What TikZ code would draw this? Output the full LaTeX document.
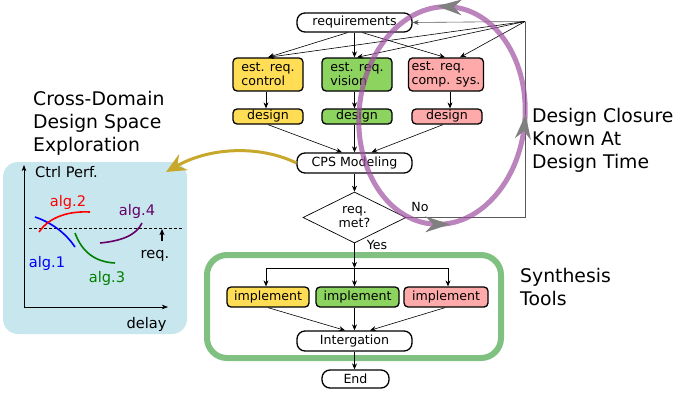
\documentclass[tikz,border=0pt]{standalone}
\usepackage{fontspec}
\setmainfont{DejaVu Sans}
\usetikzlibrary{arrows.meta,shapes.geometric,decorations.markings}
\definecolor{cyel}{HTML}{FFDD55}
\definecolor{cgrn}{HTML}{8CD35F}
\definecolor{cpnk}{HTML}{FFAAAA}
\definecolor{cblu}{HTML}{C8E6EE}
\definecolor{cgold}{HTML}{C8A82A}
\definecolor{csyn}{HTML}{80C080}
\definecolor{cpur}{HTML}{A050A0}
\newcommand\fnode{\fontsize{12.6}{14}\selectfont}
\newcommand\fbig{\fontsize{18.8}{22.8}\selectfont}
\newcommand\fplot{\fontsize{14.6}{17}\selectfont}
\tikzset{
  box/.style={draw, line width=1.3pt, rounded corners=4pt, font=\fnode, inner sep=3pt},
  pill/.style={box, rounded corners=8pt, fill=white},
  arr/.style={line width=0.6pt, -{Stealth[length=6pt,width=5pt,inset=2pt]}},
  loopline/.style={line width=0.7pt, draw=black!65},
  bigtext/.style={font=\fbig, align=left, inner sep=0pt, anchor=north west},
  plotlbl/.style={font=\fplot, inner sep=0pt},
  curve/.style={line width=1.6pt},
}
\begin{document}
\begin{tikzpicture}[x=1pt,y=-1pt]
\useasboundingbox (0,0) rectangle (675,394);

% blue exploration box and plot
\fill[cblu, rounded corners=15pt] (3,162) rectangle (187,334);
\coordinate (org) at (24,307);
\coordinate (ytop) at (24,165);
\coordinate (xend) at (168,307);
\draw[line width=0.8pt, -{Stealth[length=6pt,width=4.5pt,inset=1.5pt]}] (org) -- (ytop);
\draw[line width=0.8pt, -{Stealth[length=6pt,width=4.5pt,inset=1.5pt]}] (org) -- (xend);
\node[plotlbl, anchor=west] (ctrlperf) at (35,172) {Ctrl Perf.};
\node[plotlbl] (delay) at (146.5,324) {delay};
\draw[line width=0.9pt, dashed, dash pattern=on 3pt off 2pt] (29,228) -- (182,228);
\coordinate (reqbase) at (162,241);
\coordinate (reqtip) at (162,229);
\draw[line width=1.1pt, -{Stealth[length=6pt,width=5pt,inset=1.5pt]}] (reqbase) -- (reqtip);
\node[plotlbl] (reqlbl) at (155,256) {req.};
\draw[curve, blue] (35,217) .. controls (50,222) and (65,232) .. (75,247);
\draw[curve, red] (39,232) .. controls (50,216) and (70,211) .. (90,212);
\draw[curve, green!50!black] (75,233) .. controls (82,252) and (95,262) .. (115,263);
\draw[curve, violet!80!black] (100,243) .. controls (120,241) and (136,236) .. (142,223);
\node[plotlbl, blue] (a1) at (47,263) {alg.1};
\node[plotlbl, red] (a2) at (68,202) {alg.2};
\node[plotlbl, green!50!black] (a3) at (107,278) {alg.3};
\node[plotlbl, violet!80!black] (a4) at (137,211) {alg.4};

% synthesis box
\draw[csyn, line width=6pt, rounded corners=20pt] (207,255) rectangle (501,358);

% flowchart nodes
\node[pill, minimum width=115pt, minimum height=19pt] (req) at (354.5,22.5) {requirements};
\node[box, fill=cyel, align=left, minimum width=70pt, minimum height=33pt] (ctrl) at (268,74.5) {est. req.\\control};
\node[box, fill=cgrn, align=left, minimum width=70pt, minimum height=33pt] (vis) at (357,74.5) {est. req.\\vision};
\node[box, fill=cpnk, align=left, minimum width=70pt, minimum height=33pt, inner xsep=3pt] (comp) at (446,74.5) {est. req.\\comp. sys.};
\node[box, fill=cyel, minimum width=70pt, minimum height=15pt, inner ysep=1pt] (d1) at (268,116.5) {design};
\node[box, fill=cgrn, minimum width=70pt, minimum height=15pt, inner ysep=1pt] (d2) at (357,116.5) {design};
\node[box, fill=cpnk, minimum width=70pt, minimum height=15pt, inner ysep=1pt] (d3) at (447,116.5) {design};
\node[pill, minimum width=115pt, minimum height=20pt] (cps) at (354.5,163) {CPS Modeling};
\node[diamond, draw, line width=0.7pt, aspect=2, inner sep=0pt, minimum width=103pt, minimum height=51pt, align=center, font=\fnode] (dia) at (354.5,217.5) {req.\\met?};
\node[box, fill=cyel, minimum width=82pt, minimum height=20pt] (i1) at (268,297) {implement};
\node[box, fill=cgrn, minimum width=83pt, minimum height=20pt] (i2) at (357.5,297) {implement};
\node[box, fill=cpnk, minimum width=84pt, minimum height=20pt] (i3) at (446,297) {implement};
\node[pill, minimum width=115pt, minimum height=20pt] (integ) at (354.5,341) {Intergation};
\node[pill, minimum width=67pt, minimum height=18pt] (fin) at (355.5,379) {End};

% connectors
\draw[arr] ([xshift=-7pt]req.south) -- (ctrl.north);
\draw[arr] (req.south) -- (req.south |- vis.north);
\draw[arr] ([xshift=8pt]req.south) -- ([xshift=-1pt]comp.north);
\coordinate (corner) at (525,21.5);
\coordinate (cbot) at (525,217.5);
\draw[loopline] (dia.east) -- (cbot) -- (corner);
\draw[arr, draw=black!65] (corner) -- (req.east);
\draw[arr] (corner) -- (ctrl.north);
\draw[arr] (corner) -- (vis.north);
\draw[arr] (corner) -- ([xshift=14pt]comp.north);
\draw[arr] ([xshift=-2pt]ctrl.south) -- ([xshift=-2pt]d1.north);
\draw[arr] (ctrl.south -| req.south) -- (d2.north -| req.south);
\draw[arr] ([xshift=4pt]comp.south) -- ([xshift=3pt]d3.north);
\draw[arr] (d1.south) -- ([xshift=-12.5pt]cps.north);
\draw[arr] (d2.south -| cps.south) -- (cps.north);
\draw[arr] ([xshift=-4pt]d3.south) -- ([xshift=17pt]cps.north);
\draw[arr] (cps.south) -- (dia.north);
\coordinate (jm) at (354.5,268);
\coordinate (jl) at (266,268);
\coordinate (jr) at (448,268);
\draw[arr] (dia.south) -- (jm);
\draw[line width=0.6pt] (jl) -- (jr);
\draw[arr] (jl) -- (jl |- i1.north);
\draw[arr] (jm) -- (jm |- i2.north);
\draw[arr] (jr) -- (jr |- i3.north);
\draw[arr] (i1.south) -- ([xshift=-9.5pt]integ.north);
\draw[arr] (i2.south -| integ.north) -- (integ.north);
\draw[arr] ([xshift=-1pt]i3.south) -- ([xshift=15.5pt]integ.north);
\draw[arr] (integ.south) -- (integ.south |- fin.north);
\node[font=\fnode, inner sep=0pt] (nolbl) at (420,207) {No};
\node[font=\fnode, inner sep=0pt] (yeslbl) at (377,245) {Yes};

% design closure ellipse
\begin{scope}[shift={(442,115.5)}, rotate=-5]
\draw[cpur, line width=5pt, opacity=0.7] (0,0) ellipse [x radius=83, y radius=109];
\path[decoration={markings,
  mark=at position 0.13 with {\fill[gray] (12pt,0pt) -- (-13pt,8pt) -- (-5pt,0pt) -- (-13pt,-8pt) -- cycle;},
  mark=at position 0.39 with {\fill[gray] (12pt,0pt) -- (-13pt,8pt) -- (-5pt,0pt) -- (-13pt,-8pt) -- cycle;},
  mark=at position 0.895 with {\fill[gray] (12pt,0pt) -- (-13pt,8pt) -- (-5pt,0pt) -- (-13pt,-8pt) -- cycle;}},
  decorate] (45:83 and 109) arc[start angle=45, end angle=-315, x radius=83, y radius=109];
\end{scope}

% exploration arrow
\coordinate (goldtip) at (166,172);
\draw[cgold, line width=3pt, -{Stealth[length=20pt,width=18pt,inset=7pt]}] (cps.west) .. controls (262,146) and (212,146) .. (goldtip);

% titles
\node[bigtext] (t1) at (33,91.5) {Cross-Domain\\Design Space\\Exploration};
\node[bigtext] (t2) at (532,108.3) {Design Closure\\Known At\\Design Time};
\node[bigtext] (t3) at (520,268.3) {Synthesis\\Tools};
\end{tikzpicture}
\end{document}
